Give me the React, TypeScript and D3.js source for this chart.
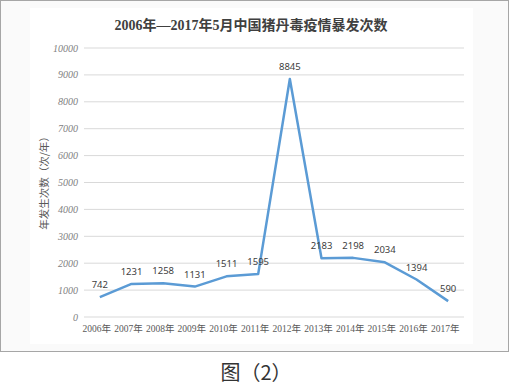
import { useRef, useEffect } from 'react';
import * as d3 from 'd3';

const years = ['2006年', '2007年', '2008年', '2009年', '2010年', '2011年', '2012年', '2013年', '2014年', '2015年', '2016年', '2017年'];
const outbreaks = [742, 1231, 1258, 1131, 1511, 1595, 8845, 2183, 2198, 2034, 1394, 590];
const yTicks = [0, 1000, 2000, 3000, 4000, 5000, 6000, 7000, 8000, 9000, 10000];

const title = '2006年—2017年5月中国猪丹毒疫情暴发次数';
const yTitle = '年发生次数（次/年）';
const caption = '图（2）';

const App = () => {
  const svgRef = useRef<SVGSVGElement>(null);
  const width = 510;
  const height = 385;

  useEffect(() => {
    const svg = d3.select(svgRef.current);
    svg.selectAll('*').remove();

    // outer frame and inner chart area
    svg.append('rect')
      .attr('x', 0.5).attr('y', 0.5)
      .attr('width', 508).attr('height', 351)
      .attr('fill', '#fafafa')
      .attr('stroke', '#a6a6a6');
    svg.append('rect')
      .attr('x', 30).attr('y', 8)
      .attr('width', 443).attr('height', 336)
      .attr('fill', '#ffffff');

    const margin = { top: 48, right: 46, bottom: 68, left: 84 };
    const innerWidth = width - margin.left - margin.right;
    const innerHeight = height - margin.top - margin.bottom;

    const g = svg.append('g')
      .attr('transform', `translate(${margin.left},${margin.top})`);

    const x = d3.scaleBand()
      .domain(years)
      .range([0, innerWidth]);

    const y = d3.scaleLinear()
      .domain([0, 10000])
      .range([innerHeight, 0]);

    // gridlines
    g.selectAll('.grid')
      .data(yTicks)
      .enter()
      .append('line')
      .attr('x1', 0)
      .attr('x2', innerWidth)
      .attr('y1', d => y(d))
      .attr('y2', d => y(d))
      .attr('stroke', '#d9d9d9')
      .attr('stroke-width', 1);

    // y tick labels
    g.selectAll('.ytick')
      .data(yTicks)
      .enter()
      .append('text')
      .attr('x', -6)
      .attr('y', d => y(d))
      .attr('dy', '0.35em')
      .attr('text-anchor', 'end')
      .attr('font-family', '"Liberation Serif", serif')
      .attr('font-style', 'italic')
      .attr('font-size', '10px')
      .attr('fill', '#7f7f7f')
      .text(d => d);

    // x labels
    g.selectAll('.xtick')
      .data(years)
      .enter()
      .append('text')
      .attr('x', d => (x(d) ?? 0) + x.bandwidth() / 2 - 3)
      .attr('y', innerHeight + 15)
      .attr('text-anchor', 'middle')
      .attr('font-family', '"Liberation Serif", "Noto Sans CJK SC", serif')
      .attr('font-size', '9.5px')
      .attr('fill', '#595959')
      .text(d => d);

    const line = d3.line<number>()
      .x((_, i) => (x(years[i]) ?? 0) + x.bandwidth() / 2)
      .y(d => y(d));

    g.append('path')
      .datum(outbreaks)
      .attr('fill', 'none')
      .attr('stroke', '#5b9bd5')
      .attr('stroke-width', 2.5)
      .attr('stroke-linejoin', 'round')
      .attr('d', line);

    // data labels
    g.selectAll('.label')
      .data(outbreaks)
      .enter()
      .append('text')
      .attr('x', (_, i) => (x(years[i]) ?? 0) + x.bandwidth() / 2)
      .attr('y', d => y(d) - 9)
      .attr('text-anchor', 'middle')
      .attr('font-family', '"Noto Sans", sans-serif')
      .attr('font-size', '9.5px')
      .attr('fill', '#404040')
      .text(d => d);

    // y axis title
    svg.append('text')
      .attr('transform', `translate(48,${margin.top + innerHeight / 2 - 2}) rotate(-90)`)
      .attr('text-anchor', 'middle')
      .attr('font-family', '"Noto Sans CJK SC", sans-serif')
      .attr('font-size', '10.5px')
      .attr('fill', '#595959')
      .text(yTitle);

    // chart title
    svg.append('text')
      .attr('x', 251)
      .attr('y', 30)
      .attr('text-anchor', 'middle')
      .attr('font-family', '"Liberation Serif", "Noto Sans CJK SC", serif')
      .attr('font-weight', 'bold')
      .attr('font-size', '14px')
      .attr('fill', '#404040')
      .text(title);

    // caption under the frame
    svg.append('text')
      .attr('x', 256)
      .attr('y', 380)
      .attr('text-anchor', 'middle')
      .attr('font-family', '"Noto Sans CJK SC", sans-serif')
      .attr('font-size', '20px')
      .attr('fill', '#333333')
      .text(caption);
  }, []);

  return (
    <svg
      ref={svgRef}
      width={width}
      height={height}
      style={{ position: 'absolute', left: 0, top: 0, background: '#ffffff' }}
    ></svg>
  );
};

export default App;
